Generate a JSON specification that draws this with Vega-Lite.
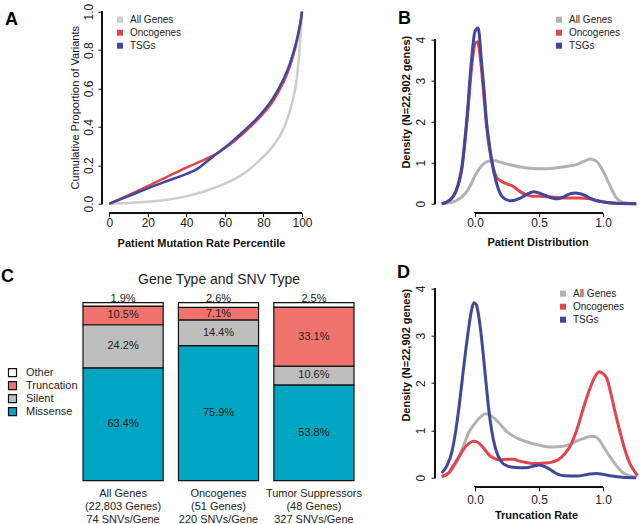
{
  "$schema": "https://vega.github.io/schema/vega-lite/v6.json",
  "background": "white",
  "padding": {"left": 1, "top": 2.7, "right": 0, "bottom": 0},
  "config": {
    "font": "Liberation Sans",
    "view": {"stroke": null},
    "axis": {"labelFont": "Liberation Sans", "labelFontSize": 12, "labelColor": "#222", "titleFont": "Liberation Sans", "titleColor": "#111", "titleFontSize": 11, "titleFontWeight": "bold", "tickColor": "#111", "tickSize": 4, "grid": false, "domain": false, "labelFlush": false, "labelOverlap": false},
    "legend": {"labelFont": "Liberation Sans", "labelColor": "#222"},
    "title": {"font": "Liberation Sans", "color": "#000"}
  },
  "datasets": {
    "A": [
      {"group": "All Genes", "x": 0, "y": 0}, {"group": "All Genes", "x": 10, "y": 0.004}, {"group": "All Genes", "x": 20, "y": 0.01}, {"group": "All Genes", "x": 30, "y": 0.02}, {"group": "All Genes", "x": 40, "y": 0.038}, {"group": "All Genes", "x": 50, "y": 0.066}, {"group": "All Genes", "x": 60, "y": 0.104}, {"group": "All Genes", "x": 65, "y": 0.128}, {"group": "All Genes", "x": 70, "y": 0.158}, {"group": "All Genes", "x": 75, "y": 0.198}, {"group": "All Genes", "x": 80, "y": 0.245}, {"group": "All Genes", "x": 85, "y": 0.3}, {"group": "All Genes", "x": 88, "y": 0.345}, {"group": "All Genes", "x": 91, "y": 0.405}, {"group": "All Genes", "x": 93, "y": 0.46}, {"group": "All Genes", "x": 95, "y": 0.53}, {"group": "All Genes", "x": 96.5, "y": 0.6}, {"group": "All Genes", "x": 97.5, "y": 0.67}, {"group": "All Genes", "x": 98.5, "y": 0.77}, {"group": "All Genes", "x": 99.3, "y": 0.88}, {"group": "All Genes", "x": 100, "y": 1.0},
      {"group": "Oncogenes", "x": 0, "y": 0}, {"group": "Oncogenes", "x": 10, "y": 0.045}, {"group": "Oncogenes", "x": 20, "y": 0.092}, {"group": "Oncogenes", "x": 30, "y": 0.14}, {"group": "Oncogenes", "x": 40, "y": 0.188}, {"group": "Oncogenes", "x": 50, "y": 0.232}, {"group": "Oncogenes", "x": 56, "y": 0.262}, {"group": "Oncogenes", "x": 60, "y": 0.29}, {"group": "Oncogenes", "x": 65, "y": 0.327}, {"group": "Oncogenes", "x": 70, "y": 0.37}, {"group": "Oncogenes", "x": 75, "y": 0.418}, {"group": "Oncogenes", "x": 80, "y": 0.47}, {"group": "Oncogenes", "x": 85, "y": 0.535}, {"group": "Oncogenes", "x": 90, "y": 0.625}, {"group": "Oncogenes", "x": 93, "y": 0.695}, {"group": "Oncogenes", "x": 95, "y": 0.755}, {"group": "Oncogenes", "x": 97, "y": 0.83}, {"group": "Oncogenes", "x": 98.5, "y": 0.9}, {"group": "Oncogenes", "x": 99.5, "y": 0.96}, {"group": "Oncogenes", "x": 100, "y": 1.0},
      {"group": "TSGs", "x": 0, "y": 0}, {"group": "TSGs", "x": 10, "y": 0.039}, {"group": "TSGs", "x": 20, "y": 0.08}, {"group": "TSGs", "x": 30, "y": 0.118}, {"group": "TSGs", "x": 40, "y": 0.155}, {"group": "TSGs", "x": 45.5, "y": 0.18}, {"group": "TSGs", "x": 50, "y": 0.215}, {"group": "TSGs", "x": 56, "y": 0.262}, {"group": "TSGs", "x": 60, "y": 0.293}, {"group": "TSGs", "x": 65, "y": 0.335}, {"group": "TSGs", "x": 70, "y": 0.38}, {"group": "TSGs", "x": 75, "y": 0.427}, {"group": "TSGs", "x": 80, "y": 0.482}, {"group": "TSGs", "x": 85, "y": 0.55}, {"group": "TSGs", "x": 90, "y": 0.64}, {"group": "TSGs", "x": 93, "y": 0.71}, {"group": "TSGs", "x": 95, "y": 0.77}, {"group": "TSGs", "x": 97, "y": 0.84}, {"group": "TSGs", "x": 98.5, "y": 0.91}, {"group": "TSGs", "x": 99.5, "y": 0.962}, {"group": "TSGs", "x": 100, "y": 1.0}
    ],
    "B": [
      {"group": "All Genes", "x": -0.26, "y": 0}, {"group": "All Genes", "x": -0.2, "y": 0.02}, {"group": "All Genes", "x": -0.15, "y": 0.07}, {"group": "All Genes", "x": -0.1, "y": 0.17}, {"group": "All Genes", "x": -0.05, "y": 0.36}, {"group": "All Genes", "x": 0, "y": 0.68}, {"group": "All Genes", "x": 0.05, "y": 0.92}, {"group": "All Genes", "x": 0.1, "y": 1.03}, {"group": "All Genes", "x": 0.15, "y": 1.05}, {"group": "All Genes", "x": 0.2, "y": 1.01}, {"group": "All Genes", "x": 0.3, "y": 0.93}, {"group": "All Genes", "x": 0.4, "y": 0.87}, {"group": "All Genes", "x": 0.5, "y": 0.85}, {"group": "All Genes", "x": 0.6, "y": 0.86}, {"group": "All Genes", "x": 0.7, "y": 0.9}, {"group": "All Genes", "x": 0.8, "y": 0.96}, {"group": "All Genes", "x": 0.85, "y": 1.03}, {"group": "All Genes", "x": 0.9, "y": 1.09}, {"group": "All Genes", "x": 0.95, "y": 1.03}, {"group": "All Genes", "x": 1.0, "y": 0.8}, {"group": "All Genes", "x": 1.05, "y": 0.47}, {"group": "All Genes", "x": 1.1, "y": 0.16}, {"group": "All Genes", "x": 1.15, "y": 0.04}, {"group": "All Genes", "x": 1.2, "y": 0.01}, {"group": "All Genes", "x": 1.26, "y": 0},
      {"group": "Oncogenes", "x": -0.26, "y": 0}, {"group": "Oncogenes", "x": -0.2, "y": 0.08}, {"group": "Oncogenes", "x": -0.15, "y": 0.28}, {"group": "Oncogenes", "x": -0.1, "y": 0.9}, {"group": "Oncogenes", "x": -0.06, "y": 2.1}, {"group": "Oncogenes", "x": -0.03, "y": 3.2}, {"group": "Oncogenes", "x": 0, "y": 3.9}, {"group": "Oncogenes", "x": 0.02, "y": 3.95}, {"group": "Oncogenes", "x": 0.05, "y": 3.3}, {"group": "Oncogenes", "x": 0.07, "y": 2.6}, {"group": "Oncogenes", "x": 0.09, "y": 1.9}, {"group": "Oncogenes", "x": 0.11, "y": 1.4}, {"group": "Oncogenes", "x": 0.13, "y": 1.05}, {"group": "Oncogenes", "x": 0.15, "y": 0.8}, {"group": "Oncogenes", "x": 0.17, "y": 0.64}, {"group": "Oncogenes", "x": 0.2, "y": 0.56}, {"group": "Oncogenes", "x": 0.25, "y": 0.48}, {"group": "Oncogenes", "x": 0.3, "y": 0.42}, {"group": "Oncogenes", "x": 0.35, "y": 0.3}, {"group": "Oncogenes", "x": 0.4, "y": 0.22}, {"group": "Oncogenes", "x": 0.45, "y": 0.18}, {"group": "Oncogenes", "x": 0.5, "y": 0.18}, {"group": "Oncogenes", "x": 0.55, "y": 0.17}, {"group": "Oncogenes", "x": 0.6, "y": 0.16}, {"group": "Oncogenes", "x": 0.65, "y": 0.15}, {"group": "Oncogenes", "x": 0.7, "y": 0.14}, {"group": "Oncogenes", "x": 0.8, "y": 0.14}, {"group": "Oncogenes", "x": 0.9, "y": 0.12}, {"group": "Oncogenes", "x": 0.95, "y": 0.08}, {"group": "Oncogenes", "x": 1.0, "y": 0.05}, {"group": "Oncogenes", "x": 1.1, "y": 0.01}, {"group": "Oncogenes", "x": 1.26, "y": 0},
      {"group": "TSGs", "x": -0.26, "y": 0}, {"group": "TSGs", "x": -0.2, "y": 0.08}, {"group": "TSGs", "x": -0.15, "y": 0.3}, {"group": "TSGs", "x": -0.1, "y": 0.95}, {"group": "TSGs", "x": -0.06, "y": 2.2}, {"group": "TSGs", "x": -0.03, "y": 3.4}, {"group": "TSGs", "x": 0, "y": 4.2}, {"group": "TSGs", "x": 0.025, "y": 4.28}, {"group": "TSGs", "x": 0.05, "y": 3.5}, {"group": "TSGs", "x": 0.07, "y": 2.8}, {"group": "TSGs", "x": 0.09, "y": 2.0}, {"group": "TSGs", "x": 0.11, "y": 1.5}, {"group": "TSGs", "x": 0.13, "y": 1.05}, {"group": "TSGs", "x": 0.17, "y": 0.48}, {"group": "TSGs", "x": 0.22, "y": 0.15}, {"group": "TSGs", "x": 0.28, "y": 0.07}, {"group": "TSGs", "x": 0.35, "y": 0.13}, {"group": "TSGs", "x": 0.4, "y": 0.22}, {"group": "TSGs", "x": 0.46, "y": 0.29}, {"group": "TSGs", "x": 0.5, "y": 0.26}, {"group": "TSGs", "x": 0.55, "y": 0.2}, {"group": "TSGs", "x": 0.6, "y": 0.14}, {"group": "TSGs", "x": 0.65, "y": 0.12}, {"group": "TSGs", "x": 0.7, "y": 0.18}, {"group": "TSGs", "x": 0.75, "y": 0.25}, {"group": "TSGs", "x": 0.78, "y": 0.26}, {"group": "TSGs", "x": 0.82, "y": 0.24}, {"group": "TSGs", "x": 0.86, "y": 0.2}, {"group": "TSGs", "x": 0.9, "y": 0.13}, {"group": "TSGs", "x": 0.95, "y": 0.07}, {"group": "TSGs", "x": 1.0, "y": 0.04}, {"group": "TSGs", "x": 1.1, "y": 0.01}, {"group": "TSGs", "x": 1.26, "y": 0}
    ],
    "D": [
      {"group": "All Genes", "x": -0.26, "y": 0.02}, {"group": "All Genes", "x": -0.2, "y": 0.1}, {"group": "All Genes", "x": -0.15, "y": 0.3}, {"group": "All Genes", "x": -0.1, "y": 0.6}, {"group": "All Genes", "x": -0.05, "y": 0.95}, {"group": "All Genes", "x": 0, "y": 1.15}, {"group": "All Genes", "x": 0.05, "y": 1.3}, {"group": "All Genes", "x": 0.08, "y": 1.35}, {"group": "All Genes", "x": 0.12, "y": 1.32}, {"group": "All Genes", "x": 0.15, "y": 1.26}, {"group": "All Genes", "x": 0.2, "y": 1.12}, {"group": "All Genes", "x": 0.25, "y": 0.97}, {"group": "All Genes", "x": 0.3, "y": 0.88}, {"group": "All Genes", "x": 0.35, "y": 0.81}, {"group": "All Genes", "x": 0.4, "y": 0.76}, {"group": "All Genes", "x": 0.5, "y": 0.69}, {"group": "All Genes", "x": 0.6, "y": 0.65}, {"group": "All Genes", "x": 0.7, "y": 0.67}, {"group": "All Genes", "x": 0.75, "y": 0.72}, {"group": "All Genes", "x": 0.8, "y": 0.78}, {"group": "All Genes", "x": 0.85, "y": 0.83}, {"group": "All Genes", "x": 0.9, "y": 0.87}, {"group": "All Genes", "x": 0.93, "y": 0.87}, {"group": "All Genes", "x": 0.97, "y": 0.8}, {"group": "All Genes", "x": 1.0, "y": 0.67}, {"group": "All Genes", "x": 1.05, "y": 0.46}, {"group": "All Genes", "x": 1.1, "y": 0.27}, {"group": "All Genes", "x": 1.15, "y": 0.12}, {"group": "All Genes", "x": 1.2, "y": 0.05}, {"group": "All Genes", "x": 1.26, "y": 0.01},
      {"group": "Oncogenes", "x": -0.26, "y": 0.02}, {"group": "Oncogenes", "x": -0.2, "y": 0.12}, {"group": "Oncogenes", "x": -0.17, "y": 0.25}, {"group": "Oncogenes", "x": -0.13, "y": 0.42}, {"group": "Oncogenes", "x": -0.09, "y": 0.6}, {"group": "Oncogenes", "x": -0.05, "y": 0.72}, {"group": "Oncogenes", "x": -0.01, "y": 0.77}, {"group": "Oncogenes", "x": 0.02, "y": 0.75}, {"group": "Oncogenes", "x": 0.05, "y": 0.68}, {"group": "Oncogenes", "x": 0.08, "y": 0.58}, {"group": "Oncogenes", "x": 0.11, "y": 0.48}, {"group": "Oncogenes", "x": 0.15, "y": 0.41}, {"group": "Oncogenes", "x": 0.2, "y": 0.38}, {"group": "Oncogenes", "x": 0.25, "y": 0.39}, {"group": "Oncogenes", "x": 0.3, "y": 0.39}, {"group": "Oncogenes", "x": 0.35, "y": 0.35}, {"group": "Oncogenes", "x": 0.4, "y": 0.32}, {"group": "Oncogenes", "x": 0.45, "y": 0.3}, {"group": "Oncogenes", "x": 0.5, "y": 0.3}, {"group": "Oncogenes", "x": 0.55, "y": 0.31}, {"group": "Oncogenes", "x": 0.6, "y": 0.33}, {"group": "Oncogenes", "x": 0.65, "y": 0.38}, {"group": "Oncogenes", "x": 0.7, "y": 0.5}, {"group": "Oncogenes", "x": 0.75, "y": 0.7}, {"group": "Oncogenes", "x": 0.8, "y": 1.05}, {"group": "Oncogenes", "x": 0.85, "y": 1.5}, {"group": "Oncogenes", "x": 0.9, "y": 1.9}, {"group": "Oncogenes", "x": 0.94, "y": 2.15}, {"group": "Oncogenes", "x": 0.97, "y": 2.24}, {"group": "Oncogenes", "x": 1.0, "y": 2.2}, {"group": "Oncogenes", "x": 1.03, "y": 2.1}, {"group": "Oncogenes", "x": 1.06, "y": 1.8}, {"group": "Oncogenes", "x": 1.09, "y": 1.44}, {"group": "Oncogenes", "x": 1.13, "y": 1.0}, {"group": "Oncogenes", "x": 1.17, "y": 0.6}, {"group": "Oncogenes", "x": 1.21, "y": 0.3}, {"group": "Oncogenes", "x": 1.24, "y": 0.16}, {"group": "Oncogenes", "x": 1.27, "y": 0.04},
      {"group": "TSGs", "x": -0.26, "y": 0.1}, {"group": "TSGs", "x": -0.22, "y": 0.25}, {"group": "TSGs", "x": -0.18, "y": 0.55}, {"group": "TSGs", "x": -0.15, "y": 1.0}, {"group": "TSGs", "x": -0.12, "y": 1.6}, {"group": "TSGs", "x": -0.09, "y": 2.3}, {"group": "TSGs", "x": -0.06, "y": 2.95}, {"group": "TSGs", "x": -0.03, "y": 3.5}, {"group": "TSGs", "x": -0.01, "y": 3.7}, {"group": "TSGs", "x": 0.01, "y": 3.66}, {"group": "TSGs", "x": 0.03, "y": 3.4}, {"group": "TSGs", "x": 0.05, "y": 2.98}, {"group": "TSGs", "x": 0.07, "y": 2.45}, {"group": "TSGs", "x": 0.09, "y": 1.9}, {"group": "TSGs", "x": 0.105, "y": 1.5}, {"group": "TSGs", "x": 0.13, "y": 1.0}, {"group": "TSGs", "x": 0.16, "y": 0.62}, {"group": "TSGs", "x": 0.2, "y": 0.36}, {"group": "TSGs", "x": 0.25, "y": 0.25}, {"group": "TSGs", "x": 0.3, "y": 0.22}, {"group": "TSGs", "x": 0.35, "y": 0.21}, {"group": "TSGs", "x": 0.4, "y": 0.21}, {"group": "TSGs", "x": 0.45, "y": 0.24}, {"group": "TSGs", "x": 0.5, "y": 0.27}, {"group": "TSGs", "x": 0.55, "y": 0.23}, {"group": "TSGs", "x": 0.6, "y": 0.15}, {"group": "TSGs", "x": 0.65, "y": 0.07}, {"group": "TSGs", "x": 0.7, "y": 0.04}, {"group": "TSGs", "x": 0.8, "y": 0.035}, {"group": "TSGs", "x": 0.88, "y": 0.07}, {"group": "TSGs", "x": 0.95, "y": 0.09}, {"group": "TSGs", "x": 1.0, "y": 0.07}, {"group": "TSGs", "x": 1.07, "y": 0.035}, {"group": "TSGs", "x": 1.15, "y": 0.01}, {"group": "TSGs", "x": 1.26, "y": 0}
    ],
    "C": [
      {"gene": "All Genes|(22,803 Genes)|74 SNVs/Gene", "type": "Missense", "value": 0.634, "order": 1},
      {"gene": "All Genes|(22,803 Genes)|74 SNVs/Gene", "type": "Silent", "value": 0.242, "order": 2},
      {"gene": "All Genes|(22,803 Genes)|74 SNVs/Gene", "type": "Truncation", "value": 0.105, "order": 3},
      {"gene": "All Genes|(22,803 Genes)|74 SNVs/Gene", "type": "Other", "value": 0.019, "order": 4},
      {"gene": "Oncogenes|(51 Genes)|220 SNVs/Gene", "type": "Missense", "value": 0.759, "order": 1},
      {"gene": "Oncogenes|(51 Genes)|220 SNVs/Gene", "type": "Silent", "value": 0.144, "order": 2},
      {"gene": "Oncogenes|(51 Genes)|220 SNVs/Gene", "type": "Truncation", "value": 0.071, "order": 3},
      {"gene": "Oncogenes|(51 Genes)|220 SNVs/Gene", "type": "Other", "value": 0.026, "order": 4},
      {"gene": "Tumor Suppressors|(48 Genes)|327 SNVs/Gene", "type": "Missense", "value": 0.538, "order": 1},
      {"gene": "Tumor Suppressors|(48 Genes)|327 SNVs/Gene", "type": "Silent", "value": 0.106, "order": 2},
      {"gene": "Tumor Suppressors|(48 Genes)|327 SNVs/Gene", "type": "Truncation", "value": 0.331, "order": 3},
      {"gene": "Tumor Suppressors|(48 Genes)|327 SNVs/Gene", "type": "Other", "value": 0.025, "order": 4}
    ]
  },
  "columns": 2,
  "spacing": {"row": 72, "column": 81},
  "bounds": "flush",
  "resolve": {"scale": {"color": "independent"}, "legend": {"color": "independent"}},
  "concat": [
    {
      "width": 271,
      "height": 201,
      "data": {"name": "A"},
      "title": {"text": "A", "fontSize": 18, "fontWeight": "bold", "anchor": "start", "frame": "group", "baseline": "alphabetic", "offset": 0, "dx": -78, "dy": 40},
      "layer": [
        {
          "mark": {"type": "line", "strokeWidth": 2.5, "interpolate": "monotone"},
          "encoding": {
            "x": {"field": "x", "type": "quantitative", "scale": {"domain": [-13.65, 127], "nice": false, "zero": false}, "axis": {"values": [0, 20, 40, 60, 80, 100], "title": "Patient Mutation Rate Percentile", "titleX": 118, "labelPadding": 1, "titlePadding": 9}},
            "y": {"field": "y", "type": "quantitative", "scale": {"domain": [-0.047, 1], "nice": false, "zero": false}, "axis": {"values": [0, 0.2, 0.4, 0.6, 0.8, 1.0], "format": ".1f", "title": "Cumulative Proportion of Variants", "titleFontWeight": "normal", "titleY": 95.5, "titlePadding": 2, "offset": -19, "labelAngle": -90, "labelAlign": "center", "labelBaseline": "bottom", "labelPadding": 3}},
            "color": {"field": "group", "type": "nominal", "scale": {"domain": ["All Genes", "Oncogenes", "TSGs"], "range": ["#CDCDCD", "#E2444E", "#40489B"]}, "legend": {"orient": "none", "legendX": 32, "legendY": 3, "title": null, "symbolType": "square", "symbolSize": 9, "symbolStrokeWidth": 3, "labelFontSize": 10, "rowPadding": -4, "labelOffset": 5, "padding": 0}}
          }
        },
        {
          "mark": {"type": "rule", "color": "#111", "strokeWidth": 1},
          "encoding": {"x": {"datum": 0, "type": "quantitative"}, "x2": {"datum": 100}, "y": {"datum": -0.047, "type": "quantitative"}}
        },
        {
          "mark": {"type": "rule", "color": "#111", "strokeWidth": 1},
          "encoding": {"y": {"datum": 0, "type": "quantitative"}, "y2": {"datum": 1}, "x": {"datum": -3.8, "type": "quantitative"}}
        }
      ]
    },
    {
      "width": 202,
      "height": 201,
      "data": {"name": "B"},
      "title": {"text": "B", "fontSize": 18, "fontWeight": "bold", "anchor": "start", "frame": "group", "baseline": "alphabetic", "offset": 0, "dx": -37, "dy": 30},
      "layer": [
        {
          "mark": {"type": "line", "strokeWidth": 3, "interpolate": "monotone"},
          "encoding": {
            "x": {"field": "x", "type": "quantitative", "scale": {"domain": [-0.3125, 1.2656], "nice": false, "zero": false}, "axis": {"values": [0, 0.5, 1], "format": ".1f", "title": "Patient Distribution", "titleX": 102.6, "labelPadding": 1, "titlePadding": 8}},
            "y": {"field": "y", "type": "quantitative", "scale": {"domain": [-0.22, 4.68], "nice": false, "zero": false}, "axis": {"values": [0, 1, 2, 3, 4], "title": "Density (N=22,902 genes)", "titleY": 90, "titlePadding": 3, "labelAngle": -90, "labelAlign": "center", "labelBaseline": "bottom", "labelPadding": 3}},
            "color": {"field": "group", "type": "nominal", "scale": {"domain": ["All Genes", "Oncogenes", "TSGs"], "range": ["#B2B2B2", "#E2444E", "#40489B"]}, "legend": {"orient": "none", "legendX": 119, "legendY": 3, "title": null, "symbolType": "square", "symbolSize": 9, "symbolStrokeWidth": 3, "labelFontSize": 10, "rowPadding": -4, "labelOffset": 5, "padding": 0}}
          }
        },
        {
          "mark": {"type": "rule", "color": "#111", "strokeWidth": 1},
          "encoding": {"x": {"datum": 0, "type": "quantitative"}, "x2": {"datum": 1}, "y": {"datum": -0.22, "type": "quantitative"}}
        },
        {
          "mark": {"type": "rule", "color": "#111", "strokeWidth": 1},
          "encoding": {"y": {"datum": 0, "type": "quantitative"}, "y2": {"datum": 4}, "x": {"datum": -0.3125, "type": "quantitative"}}
        }
      ]
    },
    {
      "width": 271,
      "height": 196,
      "data": {"name": "C"},
      "title": {"text": "C", "fontSize": 18, "fontWeight": "bold", "anchor": "start", "frame": "group", "baseline": "alphabetic", "offset": 0, "dx": -82, "dy": 27},
      "resolve": {"axis": {"x": "independent"}},
      "layer": [
        {
          "mark": {"type": "bar", "stroke": "#111", "strokeWidth": 1.2},
          "encoding": {
            "x": {"field": "gene", "type": "nominal", "sort": null, "scale": {"paddingInner": 0.16, "paddingOuter": 0}, "axis": {"title": null, "labelExpr": "split(datum.value, '|')", "ticks": false, "domain": false, "labelAngle": 0, "labelFontSize": 11, "labelLineHeight": 13, "labelPadding": 7, "labelBaseline": "top", "labelColor": "#222"}},
            "y": {"field": "value", "type": "quantitative", "stack": "zero", "scale": {"domain": [0, 1.101], "nice": false}, "axis": null},
            "color": {"field": "type", "type": "nominal", "scale": {"domain": ["Other", "Truncation", "Silent", "Missense"], "range": ["#FFFFFF", "#F0736E", "#BEBEBE", "#00A5C2"]}, "legend": {"orient": "none", "legendX": -76, "legendY": 82.5, "title": null, "symbolType": "square", "symbolSize": 64, "symbolStrokeColor": "#111", "symbolStrokeWidth": 1.2, "labelFontSize": 11, "rowPadding": 0, "labelOffset": 8, "padding": 0}},
            "order": {"field": "order", "type": "quantitative"}
          }
        },
        {
          "transform": [{"filter": "datum.type != 'Other'"}],
          "mark": {"type": "text", "fontSize": 11, "color": "#222"},
          "encoding": {
            "x": {"field": "gene", "type": "nominal", "sort": null, "axis": {"orient": "top", "title": "Gene Type and SNV Type", "titleFontSize": 14, "titleFontWeight": "normal", "titleColor": "#222", "titleBaseline": "alphabetic", "titlePadding": 1, "labels": false, "ticks": false, "domain": false}},
            "y": {"field": "value", "type": "quantitative", "stack": "zero", "bandPosition": 0.5},
            "detail": {"field": "type", "type": "nominal"},
            "order": {"field": "order", "type": "quantitative"},
            "text": {"field": "value", "type": "quantitative", "format": ".1%"}
          }
        },
        {
          "transform": [{"filter": "datum.type == 'Other'"}],
          "mark": {"type": "text", "fontSize": 11, "color": "#222", "baseline": "alphabetic", "dy": -1},
          "encoding": {
            "x": {"field": "gene", "type": "nominal", "sort": null, "axis": null},
            "y": {"datum": 1, "type": "quantitative"},
            "text": {"field": "value", "type": "quantitative", "format": ".1%"}
          }
        }
      ]
    },
    {
      "width": 202,
      "height": 202,
      "data": {"name": "D"},
      "title": {"text": "D", "fontSize": 18, "fontWeight": "bold", "anchor": "start", "frame": "group", "baseline": "alphabetic", "offset": 0, "dx": -38, "dy": 11},
      "layer": [
        {
          "mark": {"type": "line", "strokeWidth": 3, "interpolate": "monotone"},
          "encoding": {
            "x": {"field": "x", "type": "quantitative", "scale": {"domain": [-0.3125, 1.2656], "nice": false, "zero": false}, "axis": {"values": [0, 0.5, 1], "format": ".1f", "title": "Truncation Rate", "labelPadding": 3.5, "titlePadding": 4}},
            "y": {"field": "y", "type": "quantitative", "scale": {"domain": [-0.19, 4.08], "nice": false, "zero": false}, "axis": {"values": [0, 1, 2, 3, 4], "title": "Density (N=22,902 genes)", "titleY": 70, "titlePadding": 3, "labelAngle": -90, "labelAlign": "center", "labelBaseline": "bottom", "labelPadding": 3}},
            "color": {"field": "group", "type": "nominal", "scale": {"domain": ["All Genes", "Oncogenes", "TSGs"], "range": ["#B2B2B2", "#E2444E", "#40489B"]}, "legend": {"orient": "none", "legendX": 123, "legendY": 4, "title": null, "symbolType": "square", "symbolSize": 9, "symbolStrokeWidth": 3, "labelFontSize": 10, "rowPadding": -4, "labelOffset": 5, "padding": 0}}
          }
        },
        {
          "mark": {"type": "rule", "color": "#111", "strokeWidth": 1},
          "encoding": {"x": {"datum": 0, "type": "quantitative"}, "x2": {"datum": 1}, "y": {"datum": -0.19, "type": "quantitative"}}
        },
        {
          "mark": {"type": "rule", "color": "#111", "strokeWidth": 1},
          "encoding": {"y": {"datum": 0, "type": "quantitative"}, "y2": {"datum": 4}, "x": {"datum": -0.3125, "type": "quantitative"}}
        }
      ]
    }
  ]
}
